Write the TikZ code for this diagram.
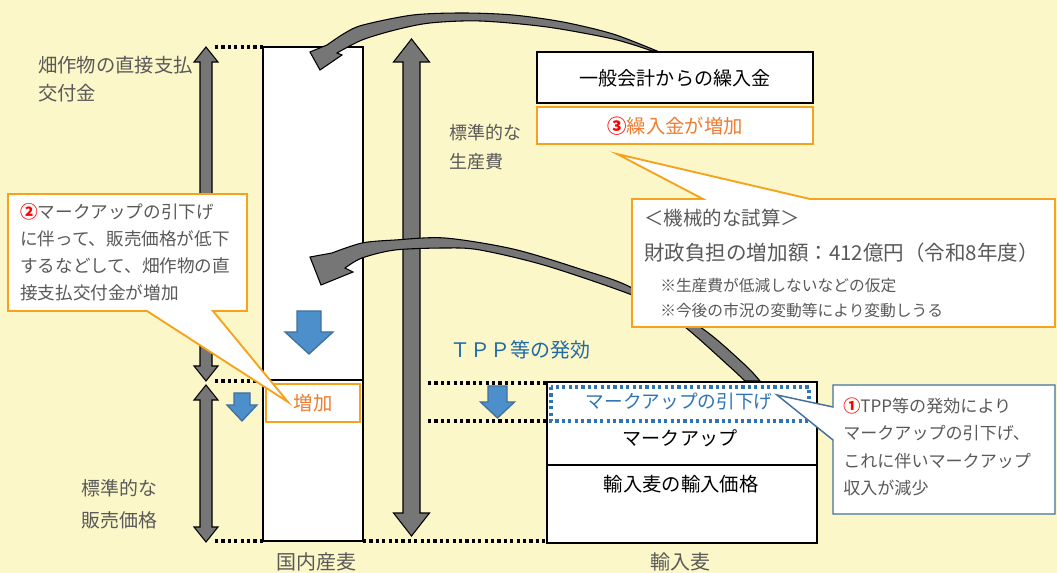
\documentclass[tikz,border=0pt]{standalone}
\usepackage{fontspec}
\setmainfont{Noto Sans CJK JP}
\definecolor{bg}{HTML}{FCF7C8}
\definecolor{txtgray}{HTML}{595959}
\definecolor{orng}{HTML}{F5A31D}
\definecolor{orngtxt}{HTML}{ED7D31}
\definecolor{blutxt}{HTML}{2E75B6}
\definecolor{bludark}{HTML}{1F6AA5}
\definecolor{bluline}{HTML}{41719C}
\definecolor{bluarrow}{HTML}{4C8FCB}
\definecolor{grayarrow}{HTML}{767676}
\definecolor{redc}{HTML}{FF0000}
\newcommand\myfs[2]{\fontsize{#1}{#2}\selectfont}
\newcommand\circnum[1]{\textcolor{redc}{\bfseries #1}}
\begin{document}
\begin{tikzpicture}[x=0.75pt,y=-0.75pt,
  box/.style={draw=black, line width=1.1pt, fill=white},
  obox/.style={draw=orng, line width=1.4pt, fill=white},
  dotline/.style={line width=2.8pt, dash pattern=on 2.4pt off 2.4pt},
  garrow/.style={fill=grayarrow, draw=black, line width=0.8pt, line join=miter},
  barrow/.style={fill=bluarrow, draw=bluline, line width=1pt},
  lbl/.style={inner sep=0pt, text=txtgray}]
\fill[bg] (0,0) rectangle (1057,573);
\useasboundingbox (0,0) rectangle (1057,573);

% dotted guide lines
\draw[dotline] (215,47) -- (263,47);
\draw[dotline] (215,381) -- (263,381);
\draw[dotline] (215,541) -- (263,541);
\draw[dotline] (363,541) -- (547,541);
\draw[dotline] (428,383) -- (547,383);
\draw[dotline] (428,421) -- (547,421);

% domestic wheat bar
\draw[box] (263,47) rectangle (363,380);
\draw[box] (263,380) rectangle (363,541);
\draw[obox] (266,384) rectangle (360,422);
\node[inner sep=0pt, text=orngtxt, font=\myfs{14.5}{16}] (zoka) at (313,403) {増加};

% imported wheat bar
\draw[box] (547,382) rectangle (817,465);
\draw[box] (547,465) rectangle (817,543);
\draw[blutxt, line width=2.6pt, dash pattern=on 2.4pt off 2.4pt] (551,387) rectangle (809,421);
\node[inner sep=0pt, text=blutxt, font=\myfs{14}{16}] (hikisage) at (679,401) {マークアップの引下げ};
\node[inner sep=0pt, font=\myfs{14.3}{16}] (markup) at (680,438) {マークアップ};
\node[inner sep=0pt, font=\myfs{14.5}{16}] (yunyukakaku) at (681,484) {輸入麦の輸入価格};

% top boxes
\draw[box] (537,52) rectangle (813,103);
\node[inner sep=0pt, font=\myfs{14.3}{16}] (ippan) at (675,78) {一般会計からの繰入金};
\draw[obox] (537,107) rectangle (813,144);
\node[inner sep=0pt, text=orngtxt, font=\myfs{14.5}{16}] (kuriire) at (675,126) {\circnum{③}繰入金が増加};

% gray vertical double arrows
\filldraw[garrow] (206,47) -- (218,62) -- (212,62) -- (212,366) -- (218,366) -- (206,381)
  -- (194,366) -- (200,366) -- (200,62) -- (194,62) -- cycle;
\filldraw[garrow] (206,385) -- (218,400) -- (212,400) -- (212,527) -- (218,527) -- (206,542)
  -- (194,527) -- (200,527) -- (200,400) -- (194,400) -- cycle;
\filldraw[garrow] (411.5,39) -- (429.5,62) -- (420,62) -- (420,513) -- (429.5,513) -- (411.5,536)
  -- (393.5,513) -- (403,513) -- (403,62) -- (393.5,62) -- cycle;

% curved arrow (top)
\filldraw[garrow] (327,45) -- plot[smooth] coordinates {(327,45) (345,33) (363,25) (413,15) (463,13) (513,15) (563,22) (613,34) (657,51)}
  -- plot[smooth] coordinates {(652,51) (613,39) (547,27) (480,21) (430,23) (395,30) (362,40) (337,53)}
  -- (342,55) -- (320,70) -- (310,52) -- cycle;

% curved arrow (middle)
\filldraw[garrow] (332,253) -- plot[smooth] coordinates {(332,253) (362,243) (395,240) (445,238) (513,249) (580,269) (632,288) (685,327) (730,367) (745,381)}
  -- plot[smooth] coordinates {(760,381) (744,364) (700,327) (640,298) (547,266) (480,250) (445,248) (395,250) (362,258) (345,268)}
  -- (353,272) -- (321,285) -- (310,257) -- cycle;

% blue down arrows
\filldraw[barrow] (297,311) -- (321,311) -- (321,332) -- (333,332) -- (309,354) -- (285,332) -- (297,332) -- cycle;
\filldraw[barrow] (234,393) -- (250,393) -- (250,405) -- (257,405) -- (242,421) -- (227,405) -- (234,405) -- cycle;
\filldraw[barrow] (488,386) -- (507,386) -- (507,402) -- (514.5,402) -- (497.5,418) -- (480.5,402) -- (488,402) -- cycle;

% callout: mechanical estimate
\filldraw[obox] (632,199) -- (703,199) -- (617,154) -- (810,199) -- (1055,199) -- (1055,327) -- (632,327) -- cycle;
\node[lbl, anchor=west, font=\myfs{14.6}{16}] (shisan) at (644,218) {＜機械的な試算＞};
\node[lbl, anchor=west, font=\myfs{15.4}{17}] (futan) at (644,253) {財政負担の増加額：412億円（令和8年度）};
\node[lbl, anchor=west, align=left, font=\myfs{11.8}{18.75}] (kome) at (660,298) {※生産費が低減しないなどの仮定\\※今後の市況の変動等により変動しうる};

% callout 2
\filldraw[obox] (8,194) -- (247,194) -- (247,311) -- (213,311) -- (288,402) -- (147,311) -- (8,311) -- cycle;
\node[lbl, anchor=west, align=left, font=\myfs{13.2}{20.25}] (c2) at (20,252) {\circnum{②}マークアップの引下げ\\に伴って、販売価格が低下\\するなどして、畑作物の直\\接支払交付金が増加};

% callout 1
\filldraw[draw=bluline, line width=1.1pt, fill=white] (833,385) -- (1055,385) -- (1055,514) -- (833,514) -- (833,440) -- (777,395) -- (833,407) -- cycle;
\node[lbl, anchor=west, align=left, font=\myfs{12.8}{20.5}] (c1) at (843,447) {\circnum{①}TPP等の発効により\\マークアップの引下げ、\\これに伴いマークアップ\\収入が減少};

% labels
\node[lbl, anchor=west, align=left, font=\myfs{14.5}{21}] (chokusetsu) at (38,79) {畑作物の直接支払\\交付金};
\node[lbl, anchor=west, align=left, font=\myfs{14.2}{24}] (hanbai) at (81,504) {標準的な\\販売価格};
\node[lbl, anchor=west, align=left, font=\myfs{13.5}{21.75}] (seisanhi) at (449,147) {標準的な\\生産費};
\node[inner sep=0pt, text=bludark, font=\myfs{15}{16}] (tpp) at (520,350) {ＴＰＰ等の発効};
\node[lbl, font=\myfs{15}{16}] (kokunai) at (316,562) {国内産麦};
\node[lbl, font=\myfs{15}{16}] (yunyu) at (680,562) {輸入麦};
\end{tikzpicture}
\end{document}
